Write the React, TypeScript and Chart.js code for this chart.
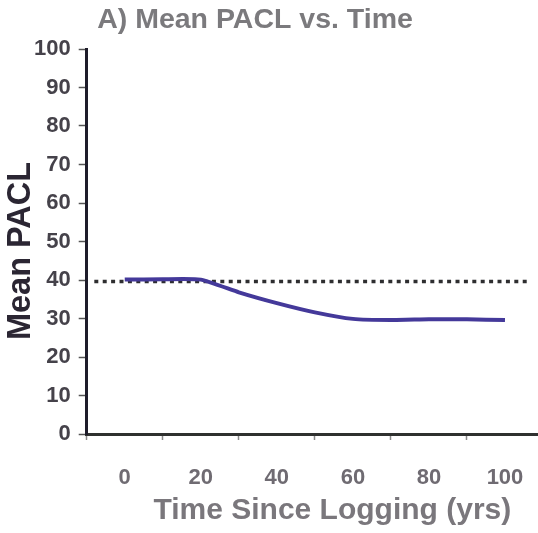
import React, { useEffect, useRef } from "react";
import { Chart, registerables } from "chart.js";

Chart.register(...registerables);

const chartTitle = "A) Mean PACL vs. Time";
const xTitle = "Time Since Logging (yrs)";
const yTitle = "Mean PACL";

const years = [0, 10, 20, 30, 40, 50, 60, 70, 80, 90, 100];
const meanPacl = [40.1, 40.2, 40.1, 36.8, 34.0, 31.6, 29.9, 29.6, 29.8, 29.8, 29.6];

const refYears = [-8, 106];
const refPacl = [39.6, 39.6];

const xTickValues = [-10, 0, 10, 20, 30, 40, 50, 60, 70, 80, 90, 100, 110];
const yTickValues = [0, 10, 20, 30, 40, 50, 60, 70, 80, 90, 100];

const FONT = "'Liberation Sans', Arial, Helvetica, sans-serif";

const titlePlugin = {
  id: "customTitles",
  afterDraw(chart: any) {
    const ctx = chart.ctx;
    ctx.save();
    ctx.font = `bold 28.5px ${FONT}`;
    ctx.fillStyle = "#7b7a7d";
    ctx.textAlign = "center";
    ctx.textBaseline = "middle";
    ctx.fillText(chartTitle, 255, 20);
    ctx.restore();

    ctx.save();
    ctx.translate(21, 251);
    ctx.rotate(-Math.PI / 2);
    ctx.font = `bold 32.5px ${FONT}`;
    ctx.fillStyle = "#2b2633";
    ctx.textAlign = "center";
    ctx.textBaseline = "middle";
    ctx.fillText(yTitle, 0, 0);
    ctx.restore();
  },
};

export default function App() {
  const canvasRef = useRef<HTMLCanvasElement | null>(null);

  useEffect(() => {
    if (!canvasRef.current) return;
    const chart = new Chart(canvasRef.current, {
      type: "line",
      data: {
        datasets: [
          {
            label: "Mean PACL",
            data: years.map((x, i) => ({ x, y: meanPacl[i] })),
            borderColor: "#44399a",
            borderWidth: 4,
            pointRadius: 0,
            tension: 0.15,
            fill: false,
          },
          {
            label: "Reference",
            data: refYears.map((x, i) => ({ x, y: refPacl[i] })),
            borderColor: "#2e2e30",
            borderWidth: 3.5,
            borderDash: [4, 4.4],
            pointRadius: 0,
            fill: false,
          },
        ],
      },
      options: {
        animation: false,
        responsive: true,
        maintainAspectRatio: false,
        layout: { padding: { top: 49, left: 26, right: 0, bottom: 4 } },
        plugins: {
          legend: { display: false },
          tooltip: { enabled: false },
          title: { display: false },
        },
        scales: {
          x: {
            type: "linear",
            min: -10,
            max: 119.2,
            afterBuildTicks: (axis: any) => {
              axis.ticks = xTickValues.map((v) => ({ value: v }));
            },
            ticks: {
              autoSkip: false,
              maxRotation: 0,
              padding: 25,
              color: "#6f6b72",
              font: { family: FONT, size: 22, weight: "bold" },
              callback: (v: any) => (Number(v) % 20 === 0 ? String(v) : ""),
            },
            grid: {
              drawOnChartArea: false,
              tickLength: 6,
              tickWidth: 1.5,
              tickColor: (ctx: any) =>
                ctx.tick && Number(ctx.tick.value) % 20 !== 0 ? "#8a8a8a" : "rgba(0,0,0,0)",
            },
            border: { display: true, color: "#2f312f", width: 3 },
            title: {
              display: true,
              text: xTitle,
              color: "#7a777c",
              font: { family: FONT, size: 30, weight: "bold" },
              padding: { top: -23.4, bottom: 0 },
            },
          },
          y: {
            type: "linear",
            min: 0,
            max: 100,
            afterBuildTicks: (axis: any) => {
              axis.ticks = yTickValues.map((v) => ({ value: v }));
            },
            ticks: {
              padding: 8,
              color: "#45424a",
              font: { family: FONT, size: 22, weight: "bold" },
            },
            grid: {
              drawOnChartArea: false,
              tickLength: 8,
              tickWidth: 1.5,
              tickColor: "#555555",
            },
            border: { display: true, color: "#1e1c2a", width: 3 },
            title: { display: false },
          },
        },
      },
      plugins: [titlePlugin],
    });
    return () => chart.destroy();
  }, []);

  return (
    <div
      style={{
        position: "fixed",
        left: 0,
        top: 0,
        width: 538,
        height: 533,
        overflow: "hidden",
        background: "#ffffff",
      }}
    >
      <div style={{ position: "relative", width: 578, height: 533 }}>
        <canvas ref={canvasRef} />
      </div>
    </div>
  );
}
